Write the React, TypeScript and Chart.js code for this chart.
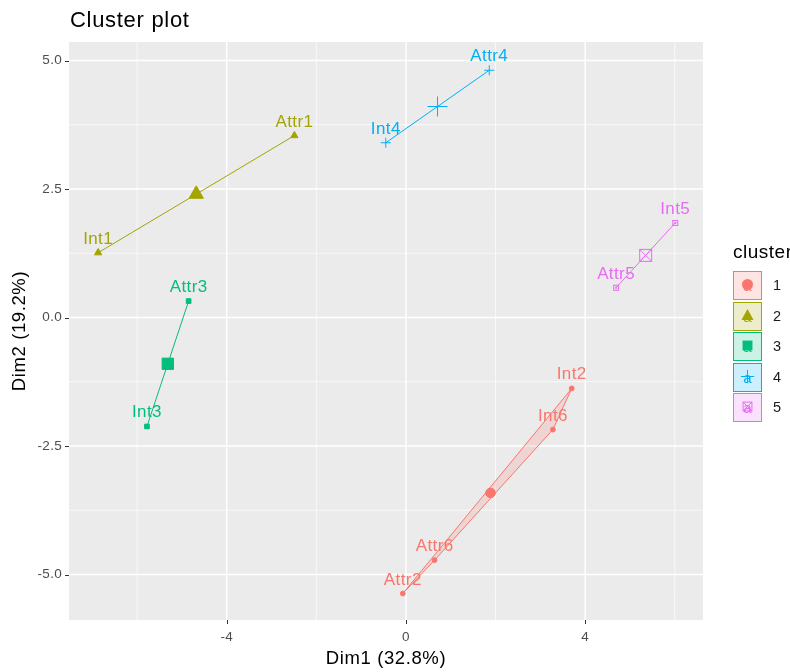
import React, { useEffect, useRef } from 'react';
import { Chart, registerables } from 'chart.js';

Chart.register(...registerables);

// ---------- data ----------
const clusterIds = ['1', '2', '3', '4', '5'];
const clusterColors = ['#F8766D', '#A3A500', '#00BF7D', '#00B0F6', '#E76BF3'];
const pointNames = ['Int1', 'Attr1', 'Int2', 'Attr2', 'Int3', 'Attr3', 'Int4', 'Attr4', 'Int5', 'Attr5', 'Int6', 'Attr6'];
const dim1Values = [-6.87, -2.49, 3.7, -0.07, -5.78, -4.85, -0.45, 1.86, 6.01, 4.69, 3.28, 0.64];
const dim2Values = [1.26, 3.54, -1.38, -5.37, -2.12, 0.32, 3.4, 4.81, 1.84, 0.58, -2.18, -4.72];
const pointCluster = [2, 2, 1, 1, 3, 3, 4, 4, 5, 5, 1, 1];
const xTicks = [-4, 0, 4];
const xMinorTicks = [-6, -2, 2, 6];
const yTicks = [-5, -2.5, 0, 2.5, 5];
const yTickLabels = ['-5.0', '-2.5', '0.0', '2.5', '5.0'];
const yMinorTicks = [-3.75, -1.25, 1.25, 3.75];
const xRange = [-7.52, 6.63];
const yRange = [-5.885, 5.36];
const titleText = 'Cluster plot';
const xTitle = 'Dim1 (32.8%)';
const yTitle = 'Dim2 (19.2%)';
const legendTitle = 'cluster';

const FONT = '"Liberation Sans", Arial, sans-serif';
const shapeNames = ['circle', 'triangle', 'rect', 'cross', 'boxX'];

function hexA(hex: string, a: number) {
  const r = parseInt(hex.slice(1, 3), 16);
  const g = parseInt(hex.slice(3, 5), 16);
  const b = parseInt(hex.slice(5, 7), 16);
  return `rgba(${r},${g},${b},${a})`;
}

function boxXCanvas(size: number, color: string, dot: boolean) {
  const c = document.createElement('canvas');
  c.width = size + 2;
  c.height = size + 2;
  const ctx = c.getContext('2d')!;
  ctx.strokeStyle = color;
  ctx.lineWidth = 1;
  ctx.strokeRect(1.5, 1.5, size - 1, size - 1);
  if (dot) {
    ctx.fillStyle = color;
    ctx.fillRect(size / 2, size / 2, 2, 2);
  } else {
    ctx.beginPath();
    ctx.moveTo(1.5, 1.5);
    ctx.lineTo(size + 0.5, size + 0.5);
    ctx.moveTo(size + 0.5, 1.5);
    ctx.lineTo(1.5, size + 0.5);
    ctx.stroke();
  }
  return c;
}

function convexHull(pts: { x: number; y: number }[]) {
  const p = [...pts].sort((a, b) => (a.x === b.x ? a.y - b.y : a.x - b.x));
  if (p.length < 3) return p;
  const cross = (o: any, a: any, b: any) => (a.x - o.x) * (b.y - o.y) - (a.y - o.y) * (b.x - o.x);
  const lower: any[] = [];
  for (const q of p) {
    while (lower.length >= 2 && cross(lower[lower.length - 2], lower[lower.length - 1], q) <= 0) lower.pop();
    lower.push(q);
  }
  const upper: any[] = [];
  for (let i = p.length - 1; i >= 0; i--) {
    const q = p[i];
    while (upper.length >= 2 && cross(upper[upper.length - 2], upper[upper.length - 1], q) <= 0) upper.pop();
    upper.push(q);
  }
  upper.pop();
  lower.pop();
  return lower.concat(upper);
}

function drawKeyShape(ctx: CanvasRenderingContext2D, shape: string, x: number, y: number, s: number, color: string) {
  ctx.save();
  ctx.fillStyle = color;
  ctx.strokeStyle = color;
  ctx.lineWidth = 1;
  ctx.beginPath();
  if (shape === 'circle') {
    ctx.arc(x, y, s * 0.5, 0, Math.PI * 2);
    ctx.fill();
  } else if (shape === 'triangle') {
    ctx.moveTo(x, y - s * 0.6);
    ctx.lineTo(x + s * 0.55, y + s * 0.4);
    ctx.lineTo(x - s * 0.55, y + s * 0.4);
    ctx.closePath();
    ctx.fill();
  } else if (shape === 'rect') {
    ctx.rect(x - s * 0.45, y - s * 0.45, s * 0.9, s * 0.9);
    ctx.fill();
  } else if (shape === 'cross') {
    ctx.moveTo(x - s * 0.6, y);
    ctx.lineTo(x + s * 0.6, y);
    ctx.moveTo(x, y - s * 0.6);
    ctx.lineTo(x, y + s * 0.6);
    ctx.stroke();
  } else {
    ctx.strokeRect(x - s * 0.4, y - s * 0.4, s * 0.8, s * 0.8);
    ctx.moveTo(x - s * 0.4, y - s * 0.4);
    ctx.lineTo(x + s * 0.4, y + s * 0.4);
    ctx.moveTo(x + s * 0.4, y - s * 0.4);
    ctx.lineTo(x - s * 0.4, y + s * 0.4);
    ctx.stroke();
  }
  ctx.restore();
}

function setSpacing(ctx: any, v: string) {
  if ('letterSpacing' in ctx) ctx.letterSpacing = v;
}

export default function App() {
  const ref = useRef<HTMLCanvasElement | null>(null);

  useEffect(() => {
    const canvas = ref.current!;
    const datasets: any[] = [];
    const hulls: { x: number; y: number }[][] = [];

    clusterIds.forEach((cid, ci) => {
      const color = clusterColors[ci];
      const members = pointNames
        .map((n, i) => ({ x: dim1Values[i], y: dim2Values[i], name: n, c: pointCluster[i] }))
        .filter((p) => p.c === ci + 1);
      const hull = convexHull(members);
      hulls.push(hull);
      const closed = hull.length > 2 ? [...hull, hull[0]] : hull;
      datasets.push({
        label: 'hull' + cid,
        data: closed.map((p) => ({ x: p.x, y: p.y })),
        showLine: true,
        borderColor: color,
        borderWidth: 1,
        pointRadius: 0,
        fill: false,
        order: 3,
      });
      const cx = members.reduce((s, p) => s + p.x, 0) / members.length;
      const cy = members.reduce((s, p) => s + p.y, 0) / members.length;
      const shape = shapeNames[ci];
      const smallR: any = { circle: 2.4, triangle: 4.2, rect: 3.3, cross: 5, boxX: 4 };
      const bigR: any = { circle: 4.8, triangle: 8.3, rect: 8, cross: 10, boxX: 8 };
      const smallStyle = shape === 'boxX' ? boxXCanvas(6, color, true) : shape;
      const bigStyle = shape === 'boxX' ? boxXCanvas(13, color, false) : shape;
      datasets.push({
        label: 'pts' + cid,
        data: members.map((p) => ({ x: p.x, y: p.y })),
        showLine: false,
        pointStyle: smallStyle,
        pointRadius: smallR[shape],
        backgroundColor: color,
        borderColor: color,
        borderWidth: 1,
        order: 2,
      });
      datasets.push({
        label: 'center' + cid,
        data: [{ x: cx, y: cy }],
        showLine: false,
        pointStyle: bigStyle,
        pointRadius: bigR[shape],
        backgroundColor: color,
        borderColor: color,
        borderWidth: 1,
        order: 1,
      });
    });

    const panelPlugin = {
      id: 'panel',
      beforeDatasetsDraw(chart: any) {
        const { ctx, chartArea: a, scales } = chart;
        const xs = scales.x;
        const ys = scales.y;
        ctx.save();
        ctx.fillStyle = '#EBEBEB';
        ctx.fillRect(a.left, a.top, a.right - a.left, a.bottom - a.top);
        ctx.strokeStyle = '#FFFFFF';
        ctx.lineWidth = 0.7;
        ctx.beginPath();
        xMinorTicks.forEach((v) => {
          const px = xs.getPixelForValue(v);
          ctx.moveTo(px, a.top);
          ctx.lineTo(px, a.bottom);
        });
        yMinorTicks.forEach((v) => {
          const py = ys.getPixelForValue(v);
          ctx.moveTo(a.left, py);
          ctx.lineTo(a.right, py);
        });
        ctx.stroke();
        ctx.lineWidth = 1.4;
        ctx.beginPath();
        xTicks.forEach((v) => {
          const px = xs.getPixelForValue(v);
          ctx.moveTo(px, a.top);
          ctx.lineTo(px, a.bottom);
        });
        yTicks.forEach((v) => {
          const py = ys.getPixelForValue(v);
          ctx.moveTo(a.left, py);
          ctx.lineTo(a.right, py);
        });
        ctx.stroke();
        // hull fills
        hulls.forEach((h, ci) => {
          if (h.length < 3) return;
          ctx.beginPath();
          h.forEach((p, i) => {
            const px = xs.getPixelForValue(p.x);
            const py = ys.getPixelForValue(p.y);
            if (i === 0) ctx.moveTo(px, py);
            else ctx.lineTo(px, py);
          });
          ctx.closePath();
          ctx.fillStyle = hexA(clusterColors[ci], 0.2);
          ctx.fill();
        });
        ctx.restore();
      },
      afterDatasetsDraw(chart: any) {
        const { ctx, scales } = chart;
        ctx.save();
        ctx.font = `17px ${FONT}`;
        setSpacing(ctx, '0.4px');
        ctx.textAlign = 'center';
        ctx.textBaseline = 'alphabetic';
        pointNames.forEach((n, i) => {
          const px = scales.x.getPixelForValue(dim1Values[i]);
          const py = scales.y.getPixelForValue(dim2Values[i]);
          ctx.fillStyle = clusterColors[pointCluster[i] - 1];
          ctx.fillText(n, px, py - 9);
        });
        ctx.restore();
      },
      afterDraw(chart: any) {
        const { ctx, chartArea: a, scales } = chart;
        ctx.save();
        // ticks
        ctx.strokeStyle = '#333333';
        ctx.lineWidth = 1;
        ctx.beginPath();
        xTicks.forEach((v) => {
          const px = Math.round(scales.x.getPixelForValue(v)) + 0.5;
          ctx.moveTo(px, a.bottom);
          ctx.lineTo(px, a.bottom + 4);
        });
        yTicks.forEach((v) => {
          const py = Math.round(scales.y.getPixelForValue(v)) + 0.5;
          ctx.moveTo(a.left - 4, py);
          ctx.lineTo(a.left, py);
        });
        ctx.stroke();
        ctx.fillStyle = '#4D4D4D';
        ctx.font = `13.5px ${FONT}`;
        setSpacing(ctx, '0.3px');
        ctx.textAlign = 'center';
        ctx.textBaseline = 'middle';
        xTicks.forEach((v) => {
          ctx.fillText(String(v), scales.x.getPixelForValue(v), a.bottom + 17);
        });
        ctx.textAlign = 'right';
        yTicks.forEach((v, i) => {
          ctx.fillText(yTickLabels[i], a.left - 7, scales.y.getPixelForValue(v));
        });
        // axis titles
        ctx.fillStyle = '#000000';
        ctx.font = `18.5px ${FONT}`;
        setSpacing(ctx, '0.6px');
        ctx.textAlign = 'center';
        ctx.fillText(xTitle, (a.left + a.right) / 2, 659);
        ctx.save();
        ctx.translate(20, (a.top + a.bottom) / 2);
        ctx.rotate(-Math.PI / 2);
        ctx.fillText(yTitle, 0, 0);
        ctx.restore();
        // title
        ctx.font = `22px ${FONT}`;
        setSpacing(ctx, '0.7px');
        ctx.textAlign = 'left';
        ctx.fillText(titleText, a.left + 1, 21);
        // legend
        ctx.font = `19px ${FONT}`;
        setSpacing(ctx, '0.5px');
        ctx.fillText(legendTitle, 733, 253);
        clusterIds.forEach((cid, ci) => {
          const color = clusterColors[ci];
          const top = 271 + ci * 30.5;
          const bx = 733.5;
          const by = Math.round(top) + 0.5;
          ctx.fillStyle = '#FFFFFF';
          ctx.fillRect(bx, by, 28, 28);
          ctx.fillStyle = hexA(color, 0.2);
          ctx.fillRect(bx, by, 28, 28);
          ctx.strokeStyle = color;
          ctx.lineWidth = 1;
          ctx.strokeRect(bx, by, 28, 28);
          const cx = bx + 14;
          const cy = by + 14;
          ctx.fillStyle = color;
          ctx.font = `15px ${FONT}`;
          setSpacing(ctx, '0px');
          ctx.textAlign = 'center';
          ctx.textBaseline = 'middle';
          ctx.fillText('a', cx, cy + 1);
          drawKeyShape(ctx, shapeNames[ci], cx, cy - 1, 11, color);
          ctx.fillStyle = '#1A1A1A';
          ctx.font = `14.5px ${FONT}`;
          ctx.textAlign = 'left';
          ctx.fillText(cid, 773, cy);
        });
        ctx.restore();
      },
    };

    const chart = new Chart(canvas, {
      type: 'scatter',
      data: { datasets },
      options: {
        responsive: false,
        animation: false,
        layout: { padding: { left: 69, right: 87, top: 42, bottom: 52 } },
        plugins: { legend: { display: false }, tooltip: { enabled: false }, title: { display: false } },
        scales: {
          x: { type: 'linear', min: xRange[0], max: xRange[1], display: false },
          y: { type: 'linear', min: yRange[0], max: yRange[1], display: false },
        },
      },
      plugins: [panelPlugin],
    });
    return () => chart.destroy();
  }, []);

  return (
    <div style={{ position: 'fixed', left: 0, top: 0, width: 790, height: 672, background: '#FFFFFF' }}>
      <canvas ref={ref} width={790} height={672} style={{ display: 'block' }} />
    </div>
  );
}
